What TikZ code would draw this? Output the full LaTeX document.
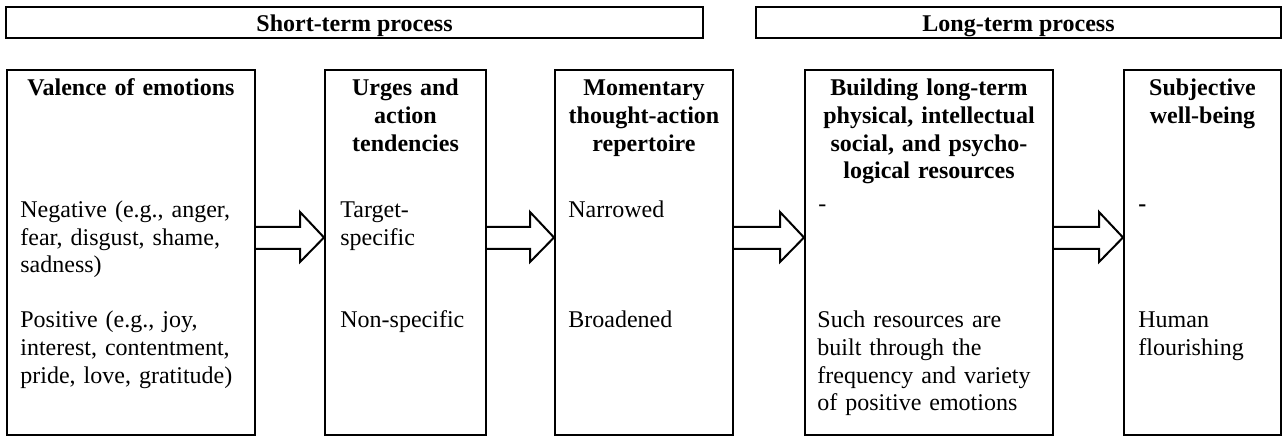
\documentclass[tikz,border=0pt]{standalone}
\usepackage{fontspec}
\setmainfont{Liberation Serif}
\usepackage{xcolor}
\usepackage{tikz}
\usetikzlibrary{calc,positioning}
\definecolor{ink}{HTML}{000000}
\definecolor{paper}{HTML}{FFFFFF}
\tikzset{
  bar/.style={draw=ink, line width=1.3pt, minimum height=15.5pt, inner sep=0pt, text height=8.6pt, text depth=0pt, font=\fontsize{12pt}{13.8pt}\selectfont\bfseries},
  box/.style={draw=ink, line width=1pt, minimum height=182.5pt, inner sep=0pt},
  head/.style={text=ink, align=center, inner sep=0pt, anchor=base, font=\fontsize{12pt}{13.8pt}\selectfont\bfseries},
  body/.style={text=ink, align=left, inner sep=0pt, anchor=base west, font=\fontsize{12pt}{13.8pt}\selectfont},
  blk/.style={draw=ink, line width=1pt, line join=miter},
}

\begin{document}
\begin{tikzpicture}[x=0.5pt, y=-0.5pt]
  \useasboundingbox[fill=paper] (0,0) rectangle (1283,437);
  % process bars
  \node[bar, minimum width=348.5pt] (short) at (354.5,22.5) {Short-term process};
  \node[bar, minimum width=262.5pt] (long) at (1018.5,22.5) {Long-term process};
  % stages
  \node[box, minimum width=124pt] (val) at (131,252.5) {};
  \node[box, minimum width=80.5pt] (urge) at (405.5,252.5) {};
  \node[box, minimum width=89pt] (rep) at (644,252.5) {};
  \node[box, minimum width=124pt] (build) at (929,252.5) {};
  \node[box, minimum width=78.5pt] (swb) at (1202.5,252.5) {};
  % headings
  \node[head, text width=120pt] (valH) at ([yshift=-13.5pt]val.north) {Valence of emotions};
  \node[head, text width=78pt] (urgeH) at ([yshift=-13.5pt]urge.north) {Urges and\\action\\tendencies};
  \node[head, text width=86pt] (repH) at ([yshift=-13.5pt]rep.north) {Momentary\\thought-action\\repertoire};
  \node[head, text width=122pt] (buildH) at ([yshift=-13.5pt]build.north) {Building long-term\\physical, intellectual\\social, and psycho-\\logical resources};
  \node[head, text width=76pt] (swbH) at ([yshift=-13.5pt]swb.north) {Subjective\\well-being};
  % contents
  \node[body, text width=115pt] (neg) at ([xshift=7pt, yshift=-74.25pt]val.north west) {Negative (e.g., anger,\\fear, disgust, shame,\\sadness)};
  \node[body, text width=115pt] (pos) at ([xshift=7pt, yshift=-129.5pt]val.north west) {Positive (e.g., joy,\\interest, contentment,\\pride, love, gratitude)};
  \node[body, text width=72pt] (tgt) at ([xshift=8pt, yshift=-74.25pt]urge.north west) {Target-\\specific};
  \node[body, text width=72pt] (nonsp) at ([xshift=8pt, yshift=-129.5pt]urge.north west) {Non-specific};
  \node[body, text width=80pt] (narr) at ([xshift=7pt, yshift=-74.25pt]rep.north west) {Narrowed};
  \node[body, text width=80pt] (broad) at ([xshift=7pt, yshift=-129.5pt]rep.north west) {Broadened};
  \node[body, text width=115pt] (buildD) at ([xshift=7pt, yshift=-71.5pt]build.north west) {-};
  \node[body, text width=115pt] (such) at ([xshift=6.5pt, yshift=-129.5pt]build.north west) {Such resources are\\built through the\\frequency and variety\\of positive emotions};
  \node[body, text width=70pt, font=\fontsize{12pt}{13.8pt}\selectfont\bfseries] (swbD) at ([xshift=7.5pt, yshift=-71.5pt]swb.north west) {-};
  \node[body, text width=70pt] (human) at ([xshift=7.5pt, yshift=-129.5pt]swb.north west) {Human\\flourishing};
  % block arrows
  \foreach \a/\b in {val/urge, urge/rep, rep/build, build/swb}{
    \draw[blk] ($(\a.east)+(0,-25.5)$) -- ($(\b.west)+(-24,-25.5)$)
      -- ($(\b.west)+(-24,-40.5)$) -- ($(\b.west)+(0,-15)$)
      -- ($(\b.west)+(-24,9.5)$) -- ($(\b.west)+(-24,-3.5)$)
      -- ($(\a.east)+(0,-3.5)$);
  }
\end{tikzpicture}
\end{document}
